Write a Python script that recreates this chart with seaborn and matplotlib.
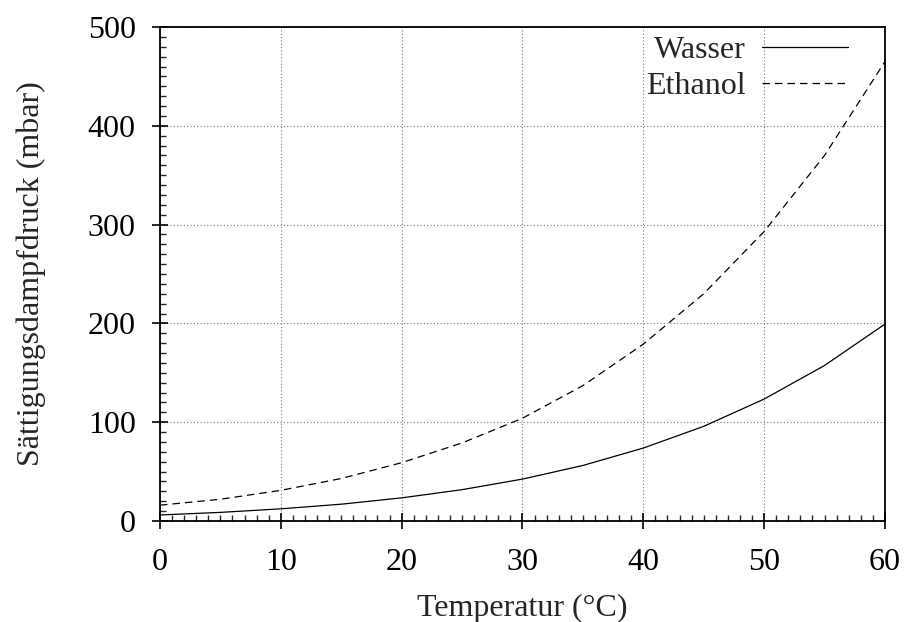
import pandas as pd
import numpy as np
import seaborn as sns
import matplotlib.pyplot as plt
from matplotlib.ticker import MultipleLocator

# Temperatur in °C, Sättigungsdampfdruck in mbar
temperatur = [0, 5, 10, 15, 20, 25, 30, 35, 40, 45, 50, 55, 60]
wasser = [6.1, 8.7, 12.3, 17.0, 23.4, 31.7, 42.4, 56.2, 73.8, 95.8, 123.4, 157.4, 199.3]
ethanol = [16, 22, 31, 43, 59, 79, 104, 137, 179, 230, 293, 370, 465]
stoffe = ['Wasser', 'Ethanol']

df = pd.DataFrame({
    'Temperatur': temperatur * 2,
    'Druck': wasser + ethanol,
    'Stoff': ['Wasser'] * len(temperatur) + ['Ethanol'] * len(temperatur),
})

sns.set_style('white')
plt.rcParams['font.family'] = ['Liberation Serif', 'DejaVu Serif']

fig = plt.figure(figsize=(9.07, 6.22), dpi=100)
ax = fig.add_axes([0.1764, 0.1624, 0.7993, 0.7942])

sns.lineplot(data=df, x='Temperatur', y='Druck', style='Stoff', style_order=stoffe,
             dashes={'Wasser': '', 'Ethanol': (6, 4)}, color='black', linewidth=0.9,
             ax=ax, legend=True)

ax.set_xlim(0, 60)
ax.set_ylim(0, 500)
ax.xaxis.set_major_locator(MultipleLocator(10))
ax.xaxis.set_minor_locator(MultipleLocator(1))
ax.yaxis.set_major_locator(MultipleLocator(100))
ax.yaxis.set_minor_locator(MultipleLocator(10))
ax.tick_params(which='major', direction='inout', length=11, width=1.2, labelsize=23, pad=12,
               bottom=True, left=True, top=False, right=False, colors='black')
ax.tick_params(which='minor', direction='in', length=4, width=1.0,
               bottom=True, left=True, top=False, right=False)
ax.tick_params(axis='x', pad=14)

ax.grid(True, which='major', color='#777777', linestyle=(0, (1, 2)), linewidth=0.8)
for s in ax.spines.values():
    s.set_color('black')
    s.set_linewidth(1.3)
    s.set_visible(True)

ax.set_xlabel('Temperatur (°C)', fontsize=23, labelpad=12)
ax.set_ylabel('Sättigungsdampfdruck (mbar)', fontsize=23, labelpad=30)

leg = ax.legend(loc='upper right', bbox_to_anchor=(0.958, 0.995), frameon=False,
                fontsize=23, markerfirst=False, handlelength=2.7, handletextpad=0.5,
                labelspacing=0.2, borderaxespad=0, borderpad=0.2)
for line in leg.get_lines():
    line.set_linewidth(0.9)
    line.set_color('black')

fig.savefig('out.png', dpi=100)
